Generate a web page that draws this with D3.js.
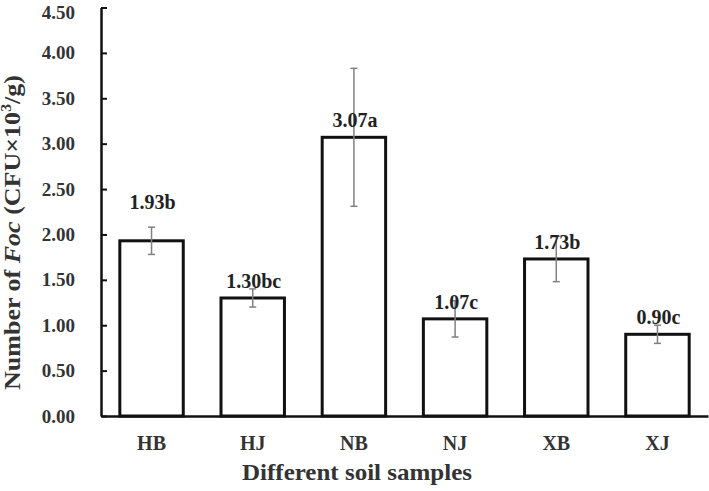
<!DOCTYPE html>
<html>
<head>
<meta charset="utf-8">
<script src="https://cdn.jsdelivr.net/npm/d3@7"></script>
<style>
  html, body { margin: 0; padding: 0; background: #fff; }
  svg { display: block; font-family: "Liberation Serif", "Times New Roman", serif; }
</style>
</head>
<body>
<svg id="chart" width="709" height="491"></svg>
<script>
const categories = ["HB", "HJ", "NB", "NJ", "XB", "XJ"];
const values = [1.93, 1.30, 3.07, 1.07, 1.73, 0.90];
const errors = [0.15, 0.10, 0.76, 0.20, 0.25, 0.10];
const letters = ["b", "bc", "a", "c", "b", "c"];
const yTicks = [0, 0.5, 1, 1.5, 2, 2.5, 3, 3.5, 4, 4.5];

const svg = d3.select("#chart");
const margin = { left: 101, right: 1, top: 7.5, bottom: 75 };
const W = 709, H = 491;
const x0 = margin.left, x1 = W - margin.right;
const yBase = H - margin.bottom; // 416

const x = d3.scaleBand().domain(categories).range([x0, x1]).paddingInner(0.373).paddingOuter(0.186);
const y = d3.scaleLinear().domain([0, 4.5]).range([yBase, margin.top]);

// bars
svg.append("g").selectAll("rect").data(categories).join("rect")
  .attr("x", d => x(d))
  .attr("y", (d, i) => y(values[i]))
  .attr("width", x.bandwidth())
  .attr("height", (d, i) => yBase - y(values[i]))
  .attr("fill", "#fff")
  .attr("stroke", "#111")
  .attr("stroke-width", 3);

// error bars
const eg = svg.append("g").attr("stroke", "#808080").attr("stroke-width", 1.5);
categories.forEach((c, i) => {
  const cx = x(c) + x.bandwidth() / 2;
  const yt = y(values[i] + errors[i]), yb = y(values[i] - errors[i]);
  eg.append("line").attr("x1", cx).attr("x2", cx).attr("y1", yt).attr("y2", yb);
  eg.append("line").attr("x1", cx - 3.5).attr("x2", cx + 3.5).attr("y1", yt).attr("y2", yt);
  eg.append("line").attr("x1", cx - 3.5).attr("x2", cx + 3.5).attr("y1", yb).attr("y2", yb);
});

// value labels (HB label sits above its error bar in the reference)
svg.append("g").selectAll("text").data(categories).join("text")
  .attr("x", d => x(d) + x.bandwidth() / 2 + 1)
  .attr("y", (d, i) => i === 0 ? y(values[i] + errors[i]) - 18 : y(values[i]) - 10)
  .attr("text-anchor", "middle")
  .attr("font-size", 20)
  .attr("font-weight", "bold")
  .attr("fill", "#222")
  .text((d, i) => values[i].toFixed(2) + letters[i]);

// y axis
const yAxis = d3.axisLeft(y).tickValues(yTicks).tickSizeInner(-6).tickSizeOuter(0)
  .tickPadding(26).tickFormat(d3.format(".2f"));
const ya = svg.append("g").attr("transform", `translate(${x0},0)`).call(yAxis);
ya.select(".domain").attr("stroke", "#111").attr("stroke-width", 2.5);
ya.selectAll(".tick line").attr("stroke", "#111").attr("stroke-width", 2);
ya.selectAll(".tick text").attr("font-size", 19).attr("font-weight", "bold")
  .attr("fill", "#333").attr("font-family", "Liberation Serif, serif")
  .attr("dy", d => d === 4.5 ? "0.6em" : "0.32em");

// x axis
const xAxis = d3.axisBottom(x).tickSize(0).tickPadding(20);
const xa = svg.append("g").attr("transform", `translate(0,${yBase})`).call(xAxis);
xa.select(".domain").attr("stroke", "#111").attr("stroke-width", 2.5);
xa.selectAll(".tick text").attr("font-size", 20).attr("font-weight", "bold")
  .attr("fill", "#333").attr("font-family", "Liberation Serif, serif");

// x title
svg.append("text")
  .attr("x", 357).attr("y", 480)
  .attr("text-anchor", "middle")
  .attr("font-size", 23).attr("font-weight", "bold").attr("fill", "#333")
  .attr("textLength", 230).attr("lengthAdjust", "spacingAndGlyphs")
  .text("Different soil samples");

// y title
const yt = svg.append("text")
  .attr("transform", "translate(20,232.5) rotate(-90)")
  .attr("text-anchor", "middle")
  .attr("font-size", 23).attr("font-weight", "bold").attr("fill", "#333")
  .attr("textLength", 315).attr("lengthAdjust", "spacingAndGlyphs");
yt.append("tspan").text("Number of ");
yt.append("tspan").attr("font-style", "italic").text("Foc");
yt.append("tspan").text(" (CFU×10");
yt.append("tspan").attr("font-size", 14).attr("dy", -9).text("3");
yt.append("tspan").attr("dy", 9).text("/g)");
</script>
</body>
</html>
